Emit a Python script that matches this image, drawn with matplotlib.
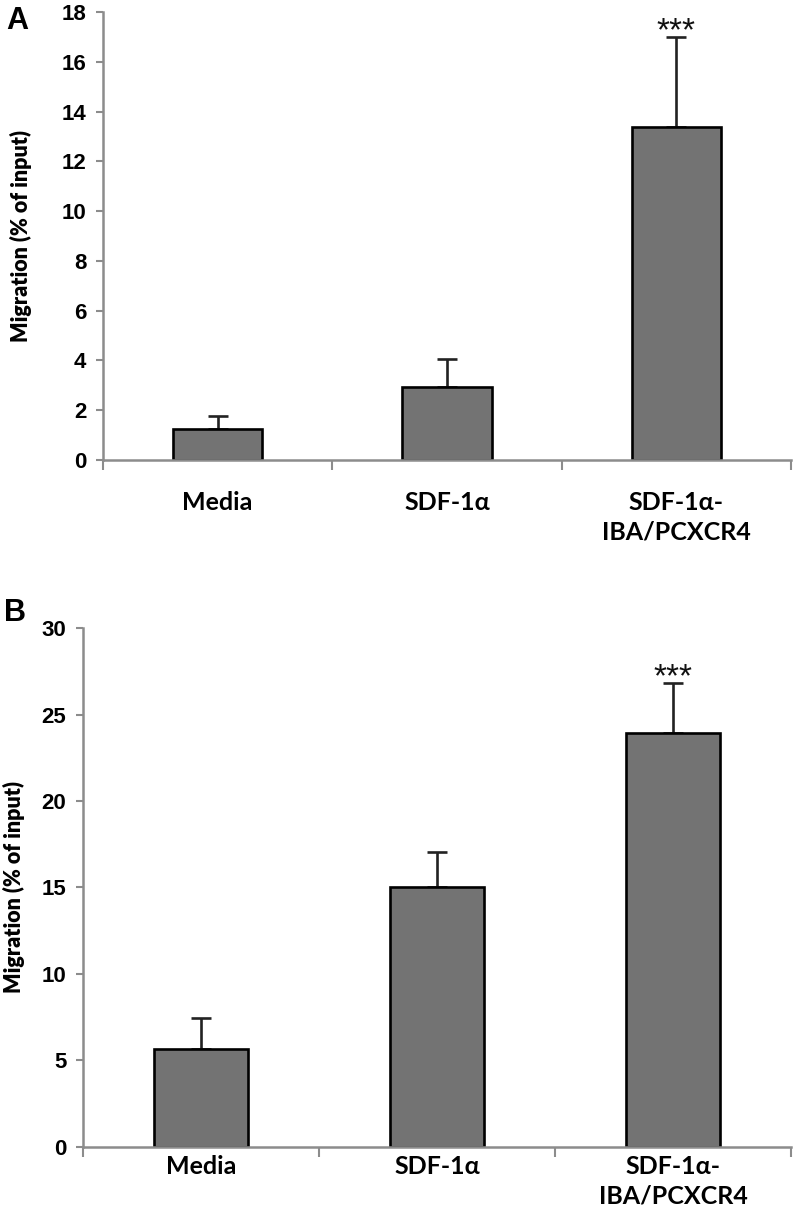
import numpy as np
import matplotlib.pyplot as plt
from matplotlib import rc

rc('font', **{'family': 'sans-serif', 'sans-serif': ['Liberation Sans', 'DejaVu Sans']})

groups = ['Media', 'SDF-1α', 'SDF-1α-\nIBA/PCXCR4']
migA = [1.25, 2.95, 13.38]
errA = [0.52, 1.12, 3.62]
migB = [5.66, 15.0, 23.95]
errB = [1.8, 2.05, 2.85]
sig = ['', '', '***']

fig = plt.figure(figsize=(7.94, 12.19), dpi=100)
axA = fig.add_axes([0.1297, 0.6226, 0.8665, 0.3676])
axB = fig.add_axes([0.1045, 0.0591, 0.8917, 0.4257])

gray = '#8c8c8c'
barcol = '#737373'
catfont = ['Lato', 'DejaVu Sans']


def panel(ax, vals, errs, ymax, ystep, width, pad):
    x = np.arange(len(vals))
    ax.bar(x, vals, width=width, color=barcol, edgecolor='black', linewidth=1.9, zorder=2)
    ax.errorbar(x, vals, yerr=[np.zeros(len(errs)), errs], fmt='none',
                ecolor='#222222', elinewidth=1.9, capsize=7, capthick=1.9, zorder=1)
    for i in range(len(vals)):
        if sig[i]:
            ax.annotate(sig[i], (x[i], vals[i] + errs[i]), xytext=(0, -3),
                        textcoords='offset pixels', ha='center', va='baseline',
                        fontsize=24, color='#111111')
    ax.set_xlim(-0.5, len(vals) - 0.5)
    ax.set_ylim(0, ymax)
    ticks = np.arange(0, ymax + 0.1, ystep)
    ax.set_yticks(ticks)
    ax.set_yticklabels(['%d' % v for v in ticks], fontsize=16, fontweight='bold')
    ax.set_xticks(x)
    ax.set_xticklabels(groups, fontsize=18, family=catfont, fontweight='bold',
                       linespacing=1.35)
    ax.set_xticks(np.arange(-0.5, len(vals)), minor=True)
    ax.tick_params(axis='x', which='major', length=0, pad=pad)
    ax.tick_params(axis='x', which='minor', length=7, width=1.5, color=gray, direction='out')
    ax.tick_params(axis='y', length=5, width=1.5, color=gray, direction='out', pad=7)
    for s in ['top', 'right']:
        ax.spines[s].set_visible(False)
    for s in ['left', 'bottom']:
        ax.spines[s].set_color(gray)
        ax.spines[s].set_linewidth(1.8)
    ax.set_ylabel('Migration (% of input)', fontsize=15.5, fontweight='heavy', family=catfont)


panel(axA, migA, errA, 18, 2, 0.39, 22)
panel(axB, migB, errB, 30, 5, 0.40, 6)
axA.yaxis.set_label_coords(-0.103, 0.5)
axB.yaxis.set_label_coords(-0.082, 0.5)

fig.text(0.022, 0.983, 'A', fontsize=22, fontweight='bold', ha='center', va='center')
fig.text(0.019, 0.497, 'B', fontsize=22, fontweight='bold', ha='center', va='center')

fig.savefig('out.png', dpi=100)
